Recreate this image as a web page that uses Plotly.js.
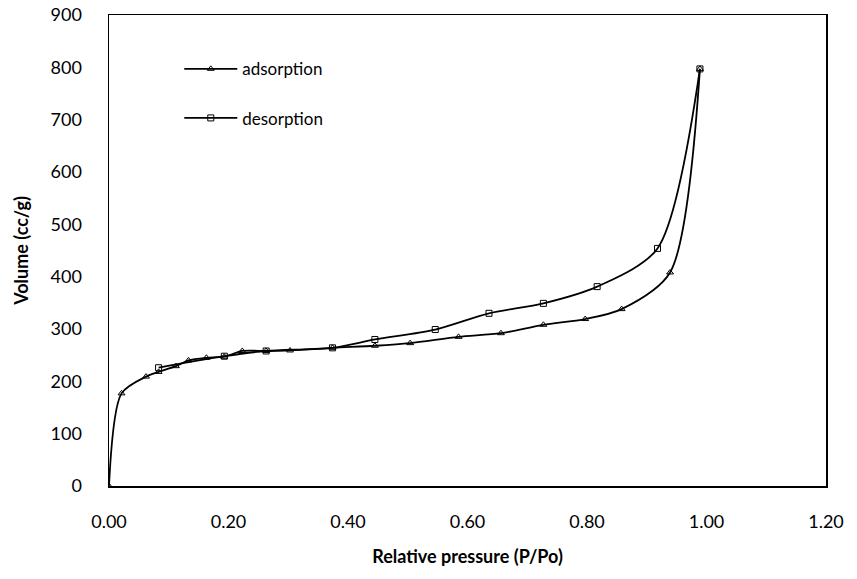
<!DOCTYPE html>
<html><head><meta charset="utf-8">
<script src="https://cdn.plot.ly/plotly-3.0.1.min.js"></script>
<style>body{margin:0;background:#fff}#c{width:857px;height:579px}</style>
</head><body><div id="c"></div>
<script>
const adsX = [0, 0.021, 0.062, 0.083, 0.112, 0.133, 0.163, 0.193, 0.223, 0.263, 0.303, 0.374, 0.445, 0.504, 0.585, 0.656, 0.727, 0.797, 0.858, 0.939, 0.989];
const adsY = [0, 177, 209, 218, 229, 240, 245, 247, 258, 258, 259, 264, 268, 273, 285, 292, 308, 319, 338, 408, 797];
const desX = [0.989, 0.918, 0.817, 0.727, 0.636, 0.546, 0.445, 0.374, 0.263, 0.193, 0.083];
const desY = [797, 454, 381, 349, 330, 299, 280, 264, 258, 248, 226];
const xTicks = [0, 0.2, 0.4, 0.6, 0.8, 1.0, 1.2];
const xTickText = ["0.00", "0.20", "0.40", "0.60", "0.80", "1.00", "1.20"];
const yTicks = [0, 100, 200, 300, 400, 500, 600, 700, 800, 900];

const font = "Lato, 'Open Sans', sans-serif";
const traces = [
  {x: adsX, y: adsY, name: "adsorption", mode: "lines+markers", legendgroup: "a",
   line: {color: "#000", width: 1.8, shape: "spline", smoothing: 0.8},
   marker: {symbol: "triangle-up-open", size: 6, color: "#000", line: {width: 1, color: "#000"}}},
  {x: desX, y: desY, name: "desorption", mode: "lines+markers", legendgroup: "d",
   line: {color: "#000", width: 1.8, shape: "spline", smoothing: 0.8},
   marker: {symbol: "square-open", size: 6, color: "#000", line: {width: 1, color: "#000"}}}
];
const layout = {
  width: 857, height: 579,
  margin: {l: 109, r: 31, t: 15, b: 93},
  paper_bgcolor: "#fff", plot_bgcolor: "#fff",
  font: {family: font, size: 18, color: "#000"},
  showlegend: true,
  legend: {x: 0.098, y: 0.923, xanchor: "left", yanchor: "top", bgcolor: "rgba(0,0,0,0)",
           font: {family: font, size: 17, color: "#000"}, tracegroupgap: 24, itemwidth: 53,
           traceorder: "grouped"},
  xaxis: {range: [0, 1.2], tickvals: xTicks, ticktext: xTickText, showgrid: false, zeroline: false,
          showline: true, linecolor: "#000", linewidth: 1.5, mirror: true, ticks: "",
          ticklabelstandoff: 19, tickfont: {family: font, size: 18},
          title: {text: "<b>Relative pressure (P/Po)</b>", font: {family: font, size: 18}, standoff: 19}},
  yaxis: {range: [0, 900], tickvals: yTicks, showgrid: false, zeroline: false,
          showline: true, linecolor: "#000", linewidth: 1.5, mirror: true, ticks: "",
          ticklabelstandoff: 22, tickfont: {family: font, size: 18},
          title: {text: "<b>Volume (cc/g)</b>", font: {family: font, size: 18}, standoff: 17}}
};
Plotly.newPlot("c", traces, layout, {displayModeBar: false, staticPlot: true});
</script></body></html>
